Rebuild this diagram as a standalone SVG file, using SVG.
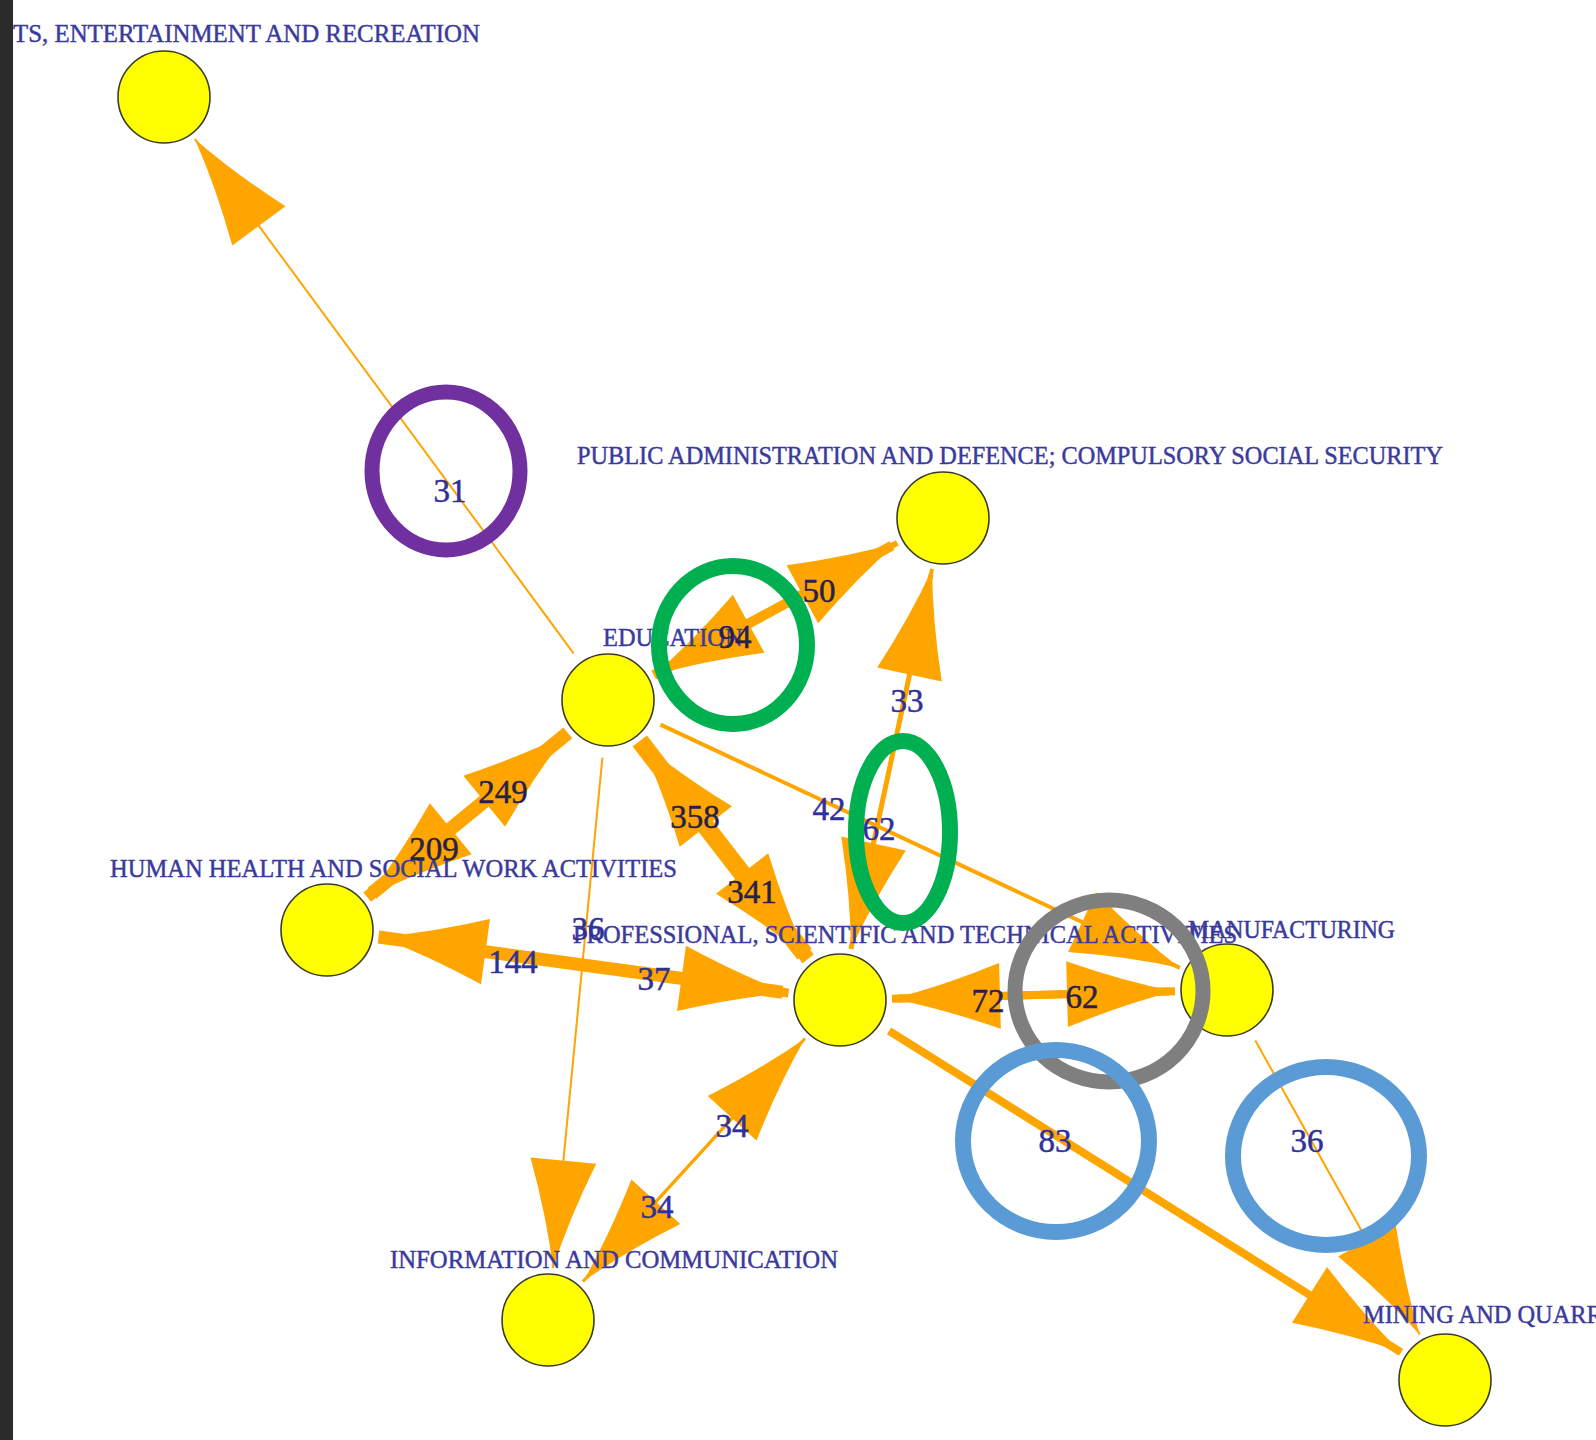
<svg xmlns="http://www.w3.org/2000/svg" xmlns:xlink="http://www.w3.org/1999/xlink" width="1596" height="1440" viewBox="0 0 1596 1440">
<style>
.e{stroke:#FFA500;fill:none;stroke-linecap:butt}
.ah{fill:#FFA500}
.n{fill:#FFFF00;stroke:#3a3a2a;stroke-width:1.6}
.nl{font-family:"Liberation Serif","Times New Roman",serif;font-size:24.4px;fill:#3a3a9c;stroke:#3a3a9c;stroke-width:0.45}
.el{font-family:"Liberation Serif","Times New Roman",serif;font-size:33px;fill:#30309a;stroke:#30309a;stroke-width:0.5;text-anchor:middle}
.el.d{fill:#2a1f4a;stroke:#2a1f4a}
.ring{fill:none}
</style>
<defs>
<path id="ah" d="M0,0 Q50,11 108,33 L108,-33 Q50,-11 0,0 Z"/>
</defs>
<rect x="0" y="0" width="1596" height="1440" fill="#ffffff"/>
<g id="connectors">
<path class="e" stroke-width="2" d="M573.6,653.3 L194.8,138.9"/>
<use href="#ah" class="ah" transform="translate(194.8,138.9) rotate(53.6)"/>
<path class="e" stroke-width="6" d="M659,672.3 L897.3,542.8"/>
<use href="#ah" class="ah" transform="translate(897.3,542.8) rotate(151.5)"/>
<path class="e" stroke-width="10" d="M892,545.7 L653.7,675.2"/>
<use href="#ah" class="ah" transform="translate(653.7,675.2) rotate(-28.5)"/>
<path class="e" stroke-width="4" d="M852.1,943.3 L932.1,568.9"/>
<use href="#ah" class="ah" transform="translate(932.1,568.9) rotate(102.1)"/>
<path class="e" stroke-width="5" d="M930.9,574.7 L850.9,949.1"/>
<use href="#ah" class="ah" transform="translate(850.9,949.1) rotate(-77.9)"/>
<path class="e" stroke-width="14" d="M371.9,893.3 L567.8,732.9"/>
<use href="#ah" class="ah" transform="translate(567.8,732.9) rotate(140.7)"/>
<path class="e" stroke-width="12" d="M563.1,736.7 L367.2,897.1"/>
<use href="#ah" class="ah" transform="translate(367.2,897.1) rotate(-39.3)"/>
<path class="e" stroke-width="18" d="M804.5,954.1 L639.8,741.1"/>
<use href="#ah" class="ah" transform="translate(639.8,741.1) rotate(52.3)"/>
<path class="e" stroke-width="14" d="M643.5,745.9 L808.2,958.9"/>
<use href="#ah" class="ah" transform="translate(808.2,958.9) rotate(-127.7)"/>
<path class="e" stroke-width="4" d="M660.5,724.6 L1179.9,967.9"/>
<use href="#ah" class="ah" transform="translate(1179.9,967.9) rotate(-154.9)"/>
<path class="e" stroke-width="2" d="M602.4,757.7 L553,1268.2"/>
<use href="#ah" class="ah" transform="translate(553,1268.2) rotate(-84.5)"/>
<path class="e" stroke-width="13" d="M782.5,992.2 L378.5,937"/>
<use href="#ah" class="ah" transform="translate(378.5,937) rotate(7.8)"/>
<path class="e" stroke-width="9" d="M384.5,937.8 L788.5,993"/>
<use href="#ah" class="ah" transform="translate(788.5,993) rotate(-172.2)"/>
<path class="e" stroke-width="8" d="M1169,991.5 L892,998.7"/>
<use href="#ah" class="ah" transform="translate(892,998.7) rotate(-1.5)"/>
<path class="e" stroke-width="8" d="M898,998.5 L1175,991.3"/>
<use href="#ah" class="ah" transform="translate(1175,991.3) rotate(178.5)"/>
<path class="e" stroke-width="8" d="M889.1,1030.9 L1401,1352.3"/>
<use href="#ah" class="ah" transform="translate(1401,1352.3) rotate(-147.9)"/>
<path class="e" stroke-width="2" d="M1255.3,1040.6 L1419.6,1334.6"/>
<use href="#ah" class="ah" transform="translate(1419.6,1334.6) rotate(-119.2)"/>
<path class="e" stroke-width="3" d="M587.1,1277.2 L805,1038.4"/>
<use href="#ah" class="ah" transform="translate(805,1038.4) rotate(132.4)"/>
<path class="e" stroke-width="3" d="M800.9,1042.8 L583,1281.6"/>
<use href="#ah" class="ah" transform="translate(583,1281.6) rotate(-47.6)"/>
</g>
<g id="node-arts"><circle class="n" cx="164" cy="97" r="46"/><text class="nl" x="13" y="42" textLength="467" lengthAdjust="spacingAndGlyphs">TS, ENTERTAINMENT AND RECREATION</text></g>
<g id="node-public"><circle class="n" cx="943" cy="518" r="46"/><text class="nl" x="577" y="464" textLength="866" lengthAdjust="spacingAndGlyphs">PUBLIC ADMINISTRATION AND DEFENCE; COMPULSORY SOCIAL SECURITY</text></g>
<g id="node-education"><circle class="n" cx="608" cy="700" r="46"/><text class="nl" x="603" y="646">EDUCATION</text></g>
<g id="node-health"><circle class="n" cx="327" cy="930" r="46"/><text class="nl" x="110" y="877" textLength="567" lengthAdjust="spacingAndGlyphs">HUMAN HEALTH AND SOCIAL WORK ACTIVITIES</text></g>
<g id="node-professional"><circle class="n" cx="840" cy="1000" r="46"/><text class="nl" x="573" y="943" textLength="664" lengthAdjust="spacingAndGlyphs">PROFESSIONAL, SCIENTIFIC AND TECHNICAL ACTIVITIES</text></g>
<g id="node-manufacturing"><circle class="n" cx="1227" cy="990" r="46"/><text class="nl" x="1188" y="938" textLength="207" lengthAdjust="spacingAndGlyphs">MANUFACTURING</text></g>
<g id="node-information"><circle class="n" cx="548" cy="1320" r="46"/><text class="nl" x="390" y="1268" textLength="448" lengthAdjust="spacingAndGlyphs">INFORMATION AND COMMUNICATION</text></g>
<g id="node-mining"><circle class="n" cx="1445" cy="1380" r="46"/><text class="nl" x="1363" y="1323">MINING AND QUARR</text></g>
<g id="edge-labels">
<text class="el" x="450" y="502">31</text>
<text class="el d" x="819" y="602">50</text>
<text class="el d" x="735" y="648">94</text>
<text class="el" x="907" y="712">33</text>
<text class="el d" x="503" y="803">249</text>
<text class="el d" x="434" y="860">209</text>
<text class="el d" x="695" y="828">358</text>
<text class="el" x="829" y="820">42</text>
<text class="el" x="879" y="840">62</text>
<text class="el d" x="752" y="903">341</text>
<text class="el" x="588" y="940">36</text>
<text class="el" x="513" y="973">144</text>
<text class="el" x="654" y="990">37</text>
<text class="el d" x="988" y="1012">72</text>
<text class="el d" x="1082" y="1008">62</text>
<text class="el" x="1055" y="1152">83</text>
<text class="el" x="1307" y="1152">36</text>
<text class="el" x="732" y="1137">34</text>
<text class="el" x="657" y="1218">34</text>
</g>
<g id="highlights">
<ellipse class="ring" cx="446" cy="471" rx="74" ry="79" stroke="#7030A0" stroke-width="15"/>
<ellipse class="ring" cx="733" cy="645" rx="74" ry="79" stroke="#00B050" stroke-width="16"/>
<ellipse class="ring" cx="903" cy="832" rx="47" ry="91" stroke="#00B050" stroke-width="16"/>
<ellipse class="ring" cx="1109" cy="991" rx="94" ry="91" stroke="#7F7F7F" stroke-width="15"/>
<ellipse class="ring" cx="1056" cy="1141" rx="93" ry="91" stroke="#5B9BD5" stroke-width="16"/>
<ellipse class="ring" cx="1326" cy="1156" rx="93" ry="89" stroke="#5B9BD5" stroke-width="16"/>
</g>
<rect x="0" y="0" width="13" height="1440" fill="#2b2b2b"/>
</svg>
